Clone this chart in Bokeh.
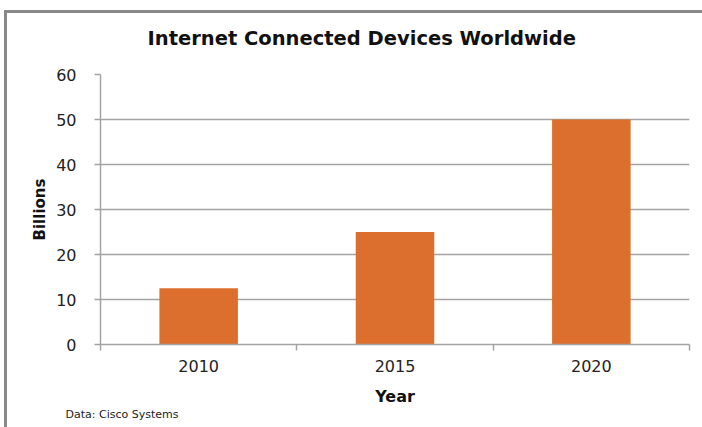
from bokeh.plotting import figure
from bokeh.models import FixedTicker, Title, ColumnDataSource
from bokeh.embed import file_html
from bokeh.resources import INLINE

years = ["2010", "2015", "2020"]
billions = [12.5, 25, 50]
y_ticks = [0, 10, 20, 30, 40, 50, 60]

xpos = [i + 0.5 for i in range(len(years))]
bounds = [float(i) for i in range(len(years) + 1)]
src = ColumnDataSource(dict(x=xpos, top=billions, label=years))

FONT = "DejaVu Sans"
GRAY = "#A3A3A3"

p = figure(width=702, height=427, output_backend="svg", toolbar_location=None,
           x_range=(0, 3), y_range=(0, 60),
           min_border_left=100, min_border_right=13, min_border_top=73, min_border_bottom=83)
p.outline_line_color = None
p.border_fill_color = None
p.styles = {
    "background": "linear-gradient(#888888,#888888) 4px 10px / 3px 100% no-repeat, "
                  "linear-gradient(#888888,#888888) 4px 10px / 100% 3px no-repeat, #ffffff",
}
p.vbar(x="x", top="top", width=0.4, bottom=0, source=src,
       fill_color="#DC6F2D", line_color=None)

p.title.text = "Internet Connected Devices Worldwide"
p.title.text_font = FONT
p.title.text_font_size = "19.5px"
p.title.text_font_style = "bold"
p.title.align = "left"
p.title.offset = 47
p.title.standoff = 49
p.title.text_color = "#111111"

p.xgrid.grid_line_color = None
p.ygrid.grid_line_color = GRAY
p.ygrid.grid_line_width = 1.5

xa = p.xaxis[0]
xa.ticker = FixedTicker(ticks=xpos, minor_ticks=bounds)
xa.major_label_overrides = {x: y for x, y in zip(xpos, years)}
xa.major_tick_out = 0
xa.major_tick_in = 0
xa.minor_tick_out = 6
xa.minor_tick_in = 0
xa.minor_tick_line_color = GRAY
xa.minor_tick_line_width = 1.5
xa.axis_line_color = GRAY
xa.axis_line_width = 1.5
xa.major_label_standoff = 9
xa.major_label_text_font = FONT
xa.major_label_text_font_size = "16px"
xa.major_label_text_color = "#222222"
xa.axis_label = "Year"
xa.axis_label_text_font = FONT
xa.axis_label_text_font_size = "16px"
xa.axis_label_text_font_style = "bold"
xa.axis_label_text_color = "#111111"
xa.axis_label_standoff = 12

ya = p.yaxis[0]
ya.ticker = FixedTicker(ticks=y_ticks, minor_ticks=[])
ya.major_tick_out = 6
ya.major_tick_in = 0
ya.major_tick_line_color = GRAY
ya.major_tick_line_width = 1.5
ya.axis_line_color = GRAY
ya.axis_line_width = 1.5
ya.major_label_standoff = 18
ya.major_label_text_font = FONT
ya.major_label_text_font_size = "16px"
ya.major_label_text_color = "#222222"
ya.axis_label = "Billions"
ya.axis_label_text_font = FONT
ya.axis_label_text_font_size = "15px"
ya.axis_label_text_font_style = "bold"
ya.axis_label_text_color = "#111111"
ya.axis_label_standoff = 4

note = Title(text="Data: Cisco Systems", align="left", offset=-35, standoff=-6,
             text_font=FONT, text_font_size="11px", text_font_style="normal",
             text_color="#222222")
p.add_layout(note, "below")

open("out.html", "w").write(file_html(p, INLINE))
